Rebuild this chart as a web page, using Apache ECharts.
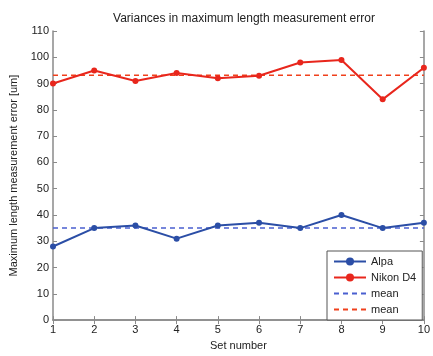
<!DOCTYPE html>
<html>
<head>
<meta charset="utf-8">
<script src="https://cdn.jsdelivr.net/npm/echarts@6/dist/echarts.min.js"></script>
<style>
html,body{margin:0;padding:0;background:#fff;}
#chart{width:433px;height:356px;}
</style>
</head>
<body>
<div id="chart"></div>
<script>
var setNumbers = [1, 2, 3, 4, 5, 6, 7, 8, 9, 10];
var alpa = [28, 35, 36, 31, 36, 37, 35, 40, 35, 37];
var nikon = [90, 95, 91, 94, 92, 93, 98, 99, 84, 96];
var alpaMean = 35;
var nikonMean = 93.2;

function pairs(xs, ys) {
    var out = [];
    for (var i = 0; i < xs.length; i++) out.push([xs[i], ys[i]]);
    return out;
}
function flat(xs, v) {
    return xs.map(function (x) { return [x, v]; });
}

var blue = '#2b4ea6';
var red = '#e8261c';
var font = 'Liberation Sans, Arial, sans-serif';
var axisGrey = '#8a8a8a';

var chart = echarts.init(document.getElementById('chart'));
var option = {
    animation: false,
    backgroundColor: '#fff',
    textStyle: { fontFamily: font },
    title: {
        text: 'Variances in maximum length measurement error',
        left: 239, top: 8, textAlign: 'center',
        textStyle: { fontSize: 12, fontWeight: 'normal', color: '#222', fontFamily: font }
    },
    grid: { left: 50, right: 5, top: 31, bottom: 29, containLabel: false },
    legend: {
        orient: 'vertical',
        left: 327, top: 251,
        width: 95,
        padding: [5, 6, 5, 6],
        itemGap: 5,
        itemWidth: 32, itemHeight: 10,
        borderColor: '#555', borderWidth: 1,
        backgroundColor: '#fff',
        textStyle: { fontSize: 11, color: '#222', fontFamily: font },
        data: [
            { name: 'Alpa' },
            { name: 'Nikon D4' },
            { name: 'mean', itemStyle: { opacity: 0 } },
            { name: 'mean ', itemStyle: { opacity: 0 } }
        ]
    },
    xAxis: [{
        type: 'value', min: 1, max: 10, interval: 1,
        name: 'Set number', nameLocation: 'middle', nameGap: 17,
        nameTextStyle: { fontSize: 11, color: '#222' },
        axisLine: { lineStyle: { color: axisGrey, width: 1.5 } },
        axisTick: { inside: true, length: 4, lineStyle: { color: axisGrey } },
        axisLabel: { fontSize: 11, color: '#222', margin: 4 },
        splitLine: { show: false }
    }, {
        type: 'value', min: 1, max: 10, interval: 1, position: 'top',
        axisLine: { show: true, lineStyle: { color: axisGrey, width: 1.5 } },
        axisTick: { inside: true, length: 4, lineStyle: { color: axisGrey } },
        axisLabel: { show: false },
        splitLine: { show: false }
    }],
    yAxis: [{
        type: 'value', min: 0, max: 110, interval: 10,
        name: 'Maximum length measurement error [um]', nameLocation: 'middle', nameGap: 34,
        nameTextStyle: { fontSize: 11, color: '#222' },
        axisLine: { show: true, lineStyle: { color: axisGrey, width: 1.5 } },
        axisTick: { show: true, inside: true, length: 4, lineStyle: { color: axisGrey } },
        axisLabel: { fontSize: 11, color: '#222', margin: 4 },
        splitLine: { show: false }
    }, {
        type: 'value', min: 0, max: 110, interval: 10, position: 'right',
        axisLine: { show: true, lineStyle: { color: axisGrey, width: 1.5 } },
        axisTick: { show: true, inside: true, length: 4, lineStyle: { color: axisGrey } },
        axisLabel: { show: false },
        splitLine: { show: false }
    }],
    series: [{
        name: 'Alpa', type: 'line', data: pairs(setNumbers, alpa),
        symbol: 'circle', symbolSize: 6,
        lineStyle: { color: blue, width: 2 }, itemStyle: { color: blue }, z: 3
    }, {
        name: 'Nikon D4', type: 'line', data: pairs(setNumbers, nikon),
        symbol: 'circle', symbolSize: 6,
        lineStyle: { color: red, width: 2 }, itemStyle: { color: red }, z: 3
    }, {
        name: 'mean', type: 'line', data: flat(setNumbers, alpaMean),
        symbol: 'none', lineStyle: { color: '#4a5fd0', width: 1.5, type: [5, 4] },
        itemStyle: { color: '#4a5fd0' }, z: 2
    }, {
        name: 'mean ', type: 'line', data: flat(setNumbers, nikonMean),
        symbol: 'none', lineStyle: { color: '#f0401c', width: 1.5, type: [5, 4] },
        itemStyle: { color: '#f0401c' }, z: 2
    }]
};
chart.setOption(option);
</script>
</body>
</html>
